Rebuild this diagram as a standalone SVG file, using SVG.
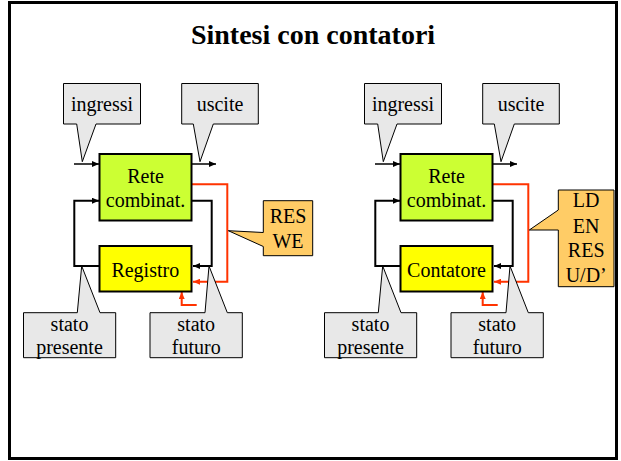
<svg xmlns="http://www.w3.org/2000/svg" width="621" height="461" viewBox="0 0 621 461">
<defs>
<style>
.t{font-family:'Liberation Serif',Tinos,'Times New Roman',Times,'DejaVu Serif',serif;font-size:20px;text-anchor:middle;fill:#000}
.title{font-family:'Liberation Serif',Tinos,'Times New Roman',Times,'DejaVu Serif',serif;font-size:28px;font-weight:bold;text-anchor:middle;fill:#000}
.call{fill:#e8e8e8;stroke:#000;stroke-width:1}
.ora{fill:#ffcc66;stroke:#000;stroke-width:1}
.rete{fill:#ccff33;stroke:#000;stroke-width:2}
.reg{fill:#ffff00;stroke:#000;stroke-width:2}
.w{fill:none;stroke:#000;stroke-width:2}
.wt{fill:none;stroke:#000;stroke-width:1.5}
.r{fill:none;stroke:#ff3300;stroke-width:2}
</style>
<marker id="ab" markerUnits="userSpaceOnUse" markerWidth="8" markerHeight="6" refX="7" refY="3" orient="auto"><path d="M0,0 L7,3 L0,6 z" fill="#000"/></marker>
<marker id="ar" markerUnits="userSpaceOnUse" markerWidth="8" markerHeight="6" refX="7" refY="3" orient="auto"><path d="M0,0 L7,3 L0,6 z" fill="#ff3300"/></marker>
</defs>
<rect x="9.5" y="2.5" width="607" height="456" fill="#fff" stroke="#000" stroke-width="3"/>
<text class="title" x="313" y="44" font-family="Liberation Serif, serif">Sintesi con contatori</text>

<g id="connectors">
<g id="conn-left">
<path class="wt" d="M74,164 H99" marker-end="url(#ab)"/>
<path class="wt" d="M192,164 H216" marker-end="url(#ab)"/>
<path class="w" d="M99,266 H74.3 V200.7 H99" marker-end="url(#ab)"/>
<path class="w" d="M192,200.7 H211.7 V266 H193" marker-end="url(#ab)"/>
<path class="r" d="M192,184.3 H227.3 V281.7 H193" marker-end="url(#ar)"/>
<path class="r" d="M196.7,305 H181.7 V292" marker-end="url(#ar)"/>
<path class="w" d="M178,291 L182,283 L186,291"/>
</g>
<g id="conn-right">
<path class="wt" d="M375,164 H400" marker-end="url(#ab)"/>
<path class="wt" d="M493,164 H517" marker-end="url(#ab)"/>
<path class="w" d="M400,266 H375.3 V200.7 H400" marker-end="url(#ab)"/>
<path class="w" d="M493,200.7 H512.7 V266 H494" marker-end="url(#ab)"/>
<path class="r" d="M493,184.3 H528.3 V281.7 H494" marker-end="url(#ar)"/>
<path class="r" d="M497.7,305 H482.7 V292" marker-end="url(#ar)"/>
<path class="w" d="M479,291 L483,283 L487,291"/>
</g>
</g>

<g id="rete-l"><rect class="rete" x="99.5" y="154" width="92" height="66.5"/><text class="t" x="145.5" y="182.7">Rete</text><text class="t" x="145.5" y="207.3">combinat.</text></g>
<g id="registro"><rect class="reg" x="99.5" y="246" width="92" height="45.5"/><text class="t" x="145.3" y="276.7">Registro</text></g>
<g id="ingressi-l"><path class="call" d="M63.5,83.5 H140.5 V124 H96 L82.3,161.7 L76.7,124 H63.5 Z"/><text class="t" x="102" y="110.7">ingressi</text></g>
<g id="uscite-l"><path class="call" d="M181.7,83.5 H258.3 V124 H213.3 L200,161.7 L193.3,124 H181.7 Z"/><text class="t" x="220" y="110.7">uscite</text></g>
<g id="presente-l"><path class="call" d="M23.5,312.7 H77.3 L81.7,266 L100,312.7 H115.7 V357.7 H23.5 Z"/><text class="t" x="69.5" y="331">stato</text><text class="t" x="69.5" y="354.3">presente</text></g>
<g id="futuro-l"><path class="call" d="M150,312.7 H205 L209,266 L227.3,312.7 H242.3 V357.7 H150 Z"/><text class="t" x="196.2" y="331">stato</text><text class="t" x="196.2" y="354.3">futuro</text></g>
<g id="reswe"><path class="ora" d="M263.3,200.7 H312.7 V255.7 H263.3 V246.5 L228.3,230.7 L263.3,232.5 Z"/><text class="t" x="288" y="223.3">RES</text><text class="t" x="288" y="248.3">WE</text></g>

<g id="rete-r"><rect class="rete" x="400.5" y="154" width="92" height="66.5"/><text class="t" x="446.5" y="182.7">Rete</text><text class="t" x="446.5" y="207.3">combinat.</text></g>
<g id="contatore"><rect class="reg" x="400.5" y="246" width="92" height="45.5"/><text class="t" x="446.5" y="276.7">Contatore</text></g>
<g id="ingressi-r"><path class="call" d="M364.5,83.5 H441.5 V124 H397 L383.3,161.7 L377.7,124 H364.5 Z"/><text class="t" x="403" y="110.7">ingressi</text></g>
<g id="uscite-r"><path class="call" d="M482.7,83.5 H559.3 V124 H514.3 L501,161.7 L494.3,124 H482.7 Z"/><text class="t" x="521" y="110.7">uscite</text></g>
<g id="presente-r"><path class="call" d="M324.5,312.7 H378.3 L382.7,266 L401,312.7 H416.7 V357.7 H324.5 Z"/><text class="t" x="370.5" y="331">stato</text><text class="t" x="370.5" y="354.3">presente</text></g>
<g id="futuro-r"><path class="call" d="M451,312.7 H506 L510,266 L528.3,312.7 H543.3 V357.7 H451 Z"/><text class="t" x="497.2" y="331">stato</text><text class="t" x="497.2" y="354.3">futuro</text></g>
<g id="ldenres"><path class="ora" d="M558.3,190 H614 V286.7 H558.3 V230 H529.3 L558.3,210 Z"/><text class="t" x="586.2" y="207.3">LD</text><text class="t" x="586.2" y="233.3">EN</text><text class="t" x="586.2" y="256.5">RES</text><text class="t" x="586.2" y="281.7">U/D’</text></g>
</svg>
